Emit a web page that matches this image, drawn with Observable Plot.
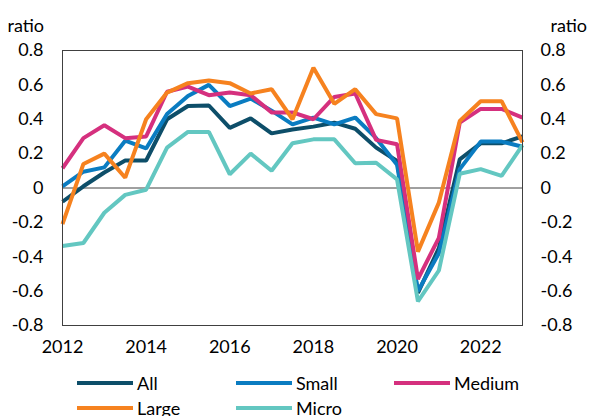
<!DOCTYPE html>
<html><head><meta charset="utf-8">
<script src="https://cdn.jsdelivr.net/npm/d3@7"></script>
<script src="https://cdn.jsdelivr.net/npm/@observablehq/plot@0.6"></script>
<style>
body{margin:0;background:#fff;font-family:Lato,sans-serif;}
#chart{position:relative;width:590px;height:416px;overflow:hidden;}
#chart svg{position:absolute;left:0;top:0;}
.item{position:absolute;height:24px;display:flex;align-items:center;font-size:18px;color:#000;line-height:24px;}
.sw{width:56px;height:4px;margin-right:4px;}
</style></head><body><div id="chart"></div>
<script>
const periods = [2012, 2012.5, 2013, 2013.5, 2014, 2014.5, 2015, 2015.5, 2016, 2016.5, 2017, 2017.5,
  2018, 2018.5, 2019, 2019.5, 2020, 2020.5, 2021, 2021.5, 2022, 2022.5, 2023];
const seriesNames = ["All", "Small", "Medium", "Large", "Micro"];
const seriesColors = ["#0d4e69", "#0a7cc1", "#d5307e", "#f6821f", "#63c7c1"];
const allValues = [-0.08, 0.01, 0.09, 0.16, 0.16, 0.40, 0.477, 0.48, 0.35, 0.405, 0.318, 0.34,
  0.357, 0.38, 0.345, 0.235, 0.157, -0.61, -0.35, 0.167, 0.26, 0.26, 0.30];
const smallValues = [0.01, 0.095, 0.12, 0.275, 0.23, 0.43, 0.535, 0.60, 0.477, 0.52, 0.45, 0.37,
  0.41, 0.37, 0.41, 0.29, 0.135, -0.60, -0.38, 0.11, 0.27, 0.27, 0.24];
const mediumValues = [0.115, 0.29, 0.365, 0.29, 0.30, 0.56, 0.59, 0.54, 0.555, 0.54, 0.44, 0.44,
  0.40, 0.53, 0.55, 0.28, 0.255, -0.53, -0.29, 0.38, 0.46, 0.46, 0.41];
const largeValues = [-0.21, 0.14, 0.20, 0.06, 0.40, 0.555, 0.61, 0.625, 0.61, 0.55, 0.575, 0.40,
  0.70, 0.49, 0.575, 0.43, 0.405, -0.37, -0.085, 0.39, 0.505, 0.505, 0.265];
const microValues = [-0.337, -0.32, -0.144, -0.04, -0.01, 0.235, 0.326, 0.326, 0.08, 0.20, 0.10, 0.26,
  0.283, 0.283, 0.144, 0.147, 0.05, -0.66, -0.48, 0.083, 0.11, 0.07, 0.25];
const xTicks = [2012, 2014, 2016, 2018, 2020, 2022];
const yTicks = [-0.8, -0.6, -0.4, -0.2, 0, 0.2, 0.4, 0.6, 0.8];
const yTickLabels = ["-0.8", "-0.6", "-0.4", "-0.2", "0", "0.2", "0.4", "0.6", "0.8"];
const yLabel = "ratio";

const valueSets = [allValues, smallValues, mediumValues, largeValues, microValues];
const data = seriesNames.flatMap((name, s) => periods.map((p, i) => ({period: p, value: valueSets[s][i], series: name})));
const fmt = d => yTickLabels[yTicks.findIndex(t => Math.abs(t - d) < 1e-9)];

const plot = Plot.plot({
  width: 590,
  height: 368,
  marginLeft: 62,
  marginRight: 68,
  marginTop: 50,
  marginBottom: 43,
  style: {fontFamily: "Lato, sans-serif", fontSize: "18px", color: "#000", background: "#fff"},
  x: {domain: [2012, 2023]},
  y: {domain: [-0.8, 0.8]},
  color: {domain: seriesNames, range: seriesColors},
  marks: [
    Plot.ruleY([0], {stroke: "#404040", strokeWidth: 1}),
    Plot.line(data, {x: "period", y: "value", z: "series", stroke: "series", strokeWidth: 4,
      strokeLinejoin: "miter", strokeLinecap: "butt"}),
    Plot.frame({stroke: "#404040", strokeWidth: 1}),
    Plot.axisX({ticks: xTicks, tickFormat: d => String(d), tickSize: 0, tickPadding: 15, label: null, fontSize: 18}),
    Plot.axisY({anchor: "left", ticks: yTicks, tickFormat: fmt, tickSize: 0, tickPadding: 19, label: null, fontSize: 18}),
    Plot.axisY({anchor: "right", ticks: yTicks, tickFormat: fmt, tickSize: 0, tickPadding: 18, label: null, fontSize: 18}),
    Plot.text([yLabel], {frameAnchor: "top-left", text: d => d, dx: -55, dy: -19, textAnchor: "start", lineAnchor: "bottom", fontSize: 18}),
    Plot.text([yLabel], {frameAnchor: "top-right", text: d => d, dx: 28, dy: -19, textAnchor: "start", lineAnchor: "bottom", fontSize: 18})
  ]
});
const chart = document.getElementById("chart");
chart.appendChild(plot);

const legendPos = [[77, 371], [236, 371], [394, 371], [77, 396], [236, 396]];
seriesNames.forEach((name, i) => {
  const item = document.createElement("div");
  item.className = "item";
  item.style.left = legendPos[i][0] + "px";
  item.style.top = legendPos[i][1] + "px";
  const sw = document.createElement("span");
  sw.className = "sw";
  sw.style.background = seriesColors[i];
  const t = document.createElement("span");
  t.textContent = name;
  item.appendChild(sw);
  item.appendChild(t);
  chart.appendChild(item);
});
</script></body></html>
